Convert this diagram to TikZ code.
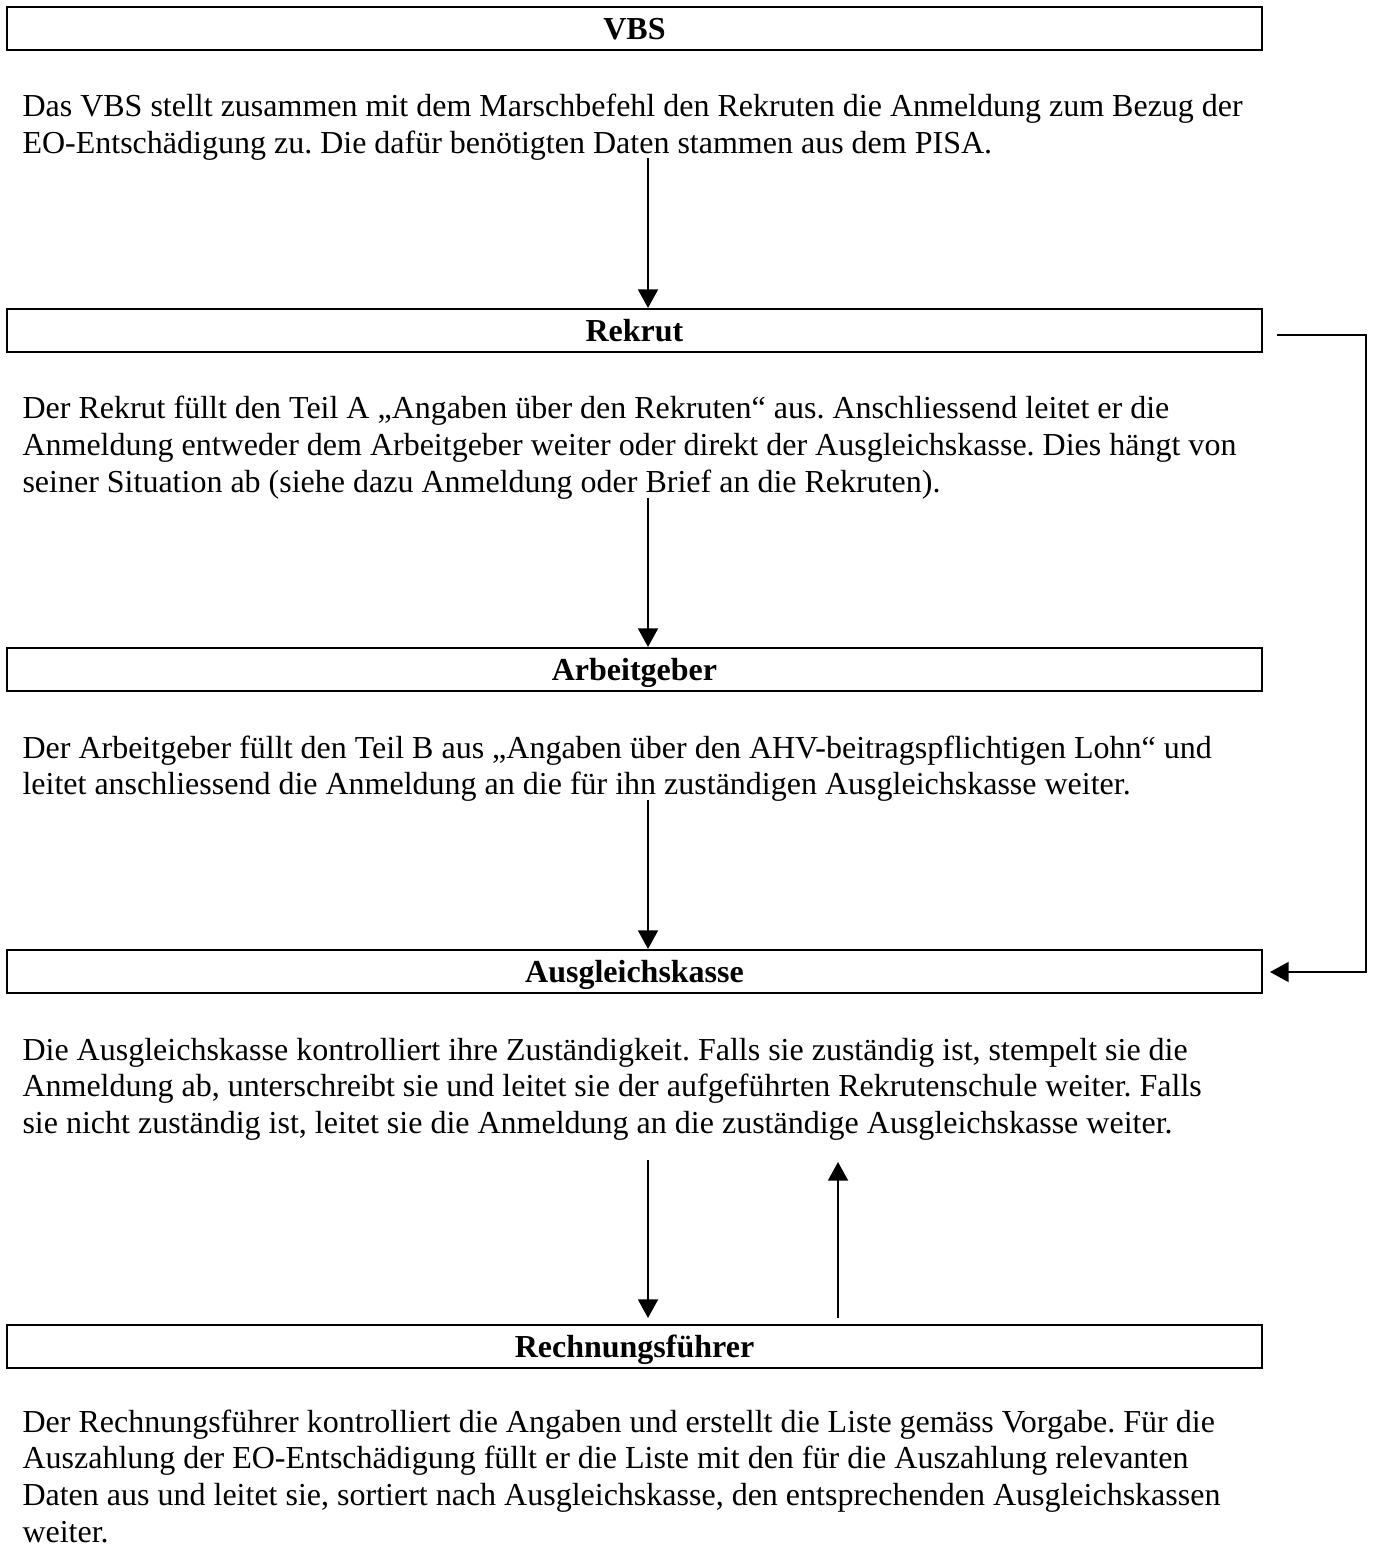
\documentclass[tikz,border=0pt]{standalone}
\usepackage{fontspec}
\setmainfont{Liberation Serif}
\usetikzlibrary{arrows.meta}
\begin{document}
\begin{tikzpicture}[x=0.375pt,y=-0.375pt,
  box/.style={draw, line width=0.8pt, minimum width=470.6pt, minimum height=16.1pt,
    inner sep=0pt, text height=7.9pt, text depth=0pt,
    font=\fontsize{12pt}{13.8pt}\selectfont\bfseries},
  para/.style={anchor=base west, inner sep=0pt,
    font=\frenchspacing\fontsize{12pt}{13.8pt}\selectfont},
  arr/.style={line width=0.75pt, -{Triangle[length=7pt,width=7.5pt]}}]
\useasboundingbox (0,0) rectangle (1377,1549);

% boxes
\node[box] (vbs)    at (634.5,28.5)   {VBS};
\node[box] (rek)    at (634.5,330.5)  {Rekrut};
\node[box] (arb)    at (634.5,669.5)  {Arbeitgeber};
\node[box] (akasse) at (634.5,971.5)  {Ausgleichskasse};
\node[box] (rf)     at (634.5,1346.5) {Rechnungsführer};

% paragraphs
\node[para] (p1) at (22,117) {\parbox[t]{500pt}{Das VBS stellt zusammen mit dem Marschbefehl den Rekruten die Anmeldung zum Bezug der\\
EO-Entschädigung zu. Die dafür benötigten Daten stammen aus dem PISA.}};
\node[para] (p2) at (22,419) {\parbox[t]{500pt}{Der Rekrut füllt den Teil A „Angaben über den Rekruten“ aus. Anschliessend leitet er die\\
Anmeldung entweder dem Arbeitgeber weiter oder direkt der Ausgleichskasse. Dies hängt von\\
seiner Situation ab (siehe dazu Anmeldung oder Brief an die Rekruten).}};
\node[para] (p3) at (22,758) {\parbox[t]{500pt}{Der Arbeitgeber füllt den Teil B aus „Angaben über den AHV-beitragspflichtigen Lohn“ und\\
leitet anschliessend die Anmeldung an die für ihn zuständigen Ausgleichskasse weiter.}};
\node[para] (p4) at (22,1060) {\parbox[t]{500pt}{Die Ausgleichskasse kontrolliert ihre Zuständigkeit. Falls sie zuständig ist, stempelt sie die\\
Anmeldung ab, unterschreibt sie und leitet sie der aufgeführten Rekrutenschule weiter. Falls\\
sie nicht zuständig ist, leitet sie die Anmeldung an die zuständige Ausgleichskasse weiter.}};
\node[para] (p5) at (22,1432) {\parbox[t]{500pt}{Der Rechnungsführer kontrolliert die Angaben und erstellt die Liste gemäss Vorgabe. Für die\\
Auszahlung der EO-Entschädigung füllt er die Liste mit den für die Auszahlung relevanten\\
Daten aus und leitet sie, sortiert nach Ausgleichskasse, den entsprechenden Ausgleichskassen\\
weiter.}};

% connector end points
\coordinate (a1) at (648,158);
\coordinate (a2) at (648,498);
\coordinate (a3) at (648,800);
\coordinate (a4s) at (648,1160);
\coordinate (a4e) at (648,1318);
\coordinate (a5s) at (838,1318);
\coordinate (a5e) at (838,1162);
\coordinate (r1) at (1277,335);
\coordinate (r2) at (1366,335);
\coordinate (r3) at (1366,972);
\coordinate (r4) at (1270,972);

\draw[arr] (a1) -- (a1 |- rek.north);
\draw[arr] (a2) -- (a2 |- arb.north);
\draw[arr] (a3) -- (a3 |- akasse.north);
\draw[arr] (a4s) -- (a4e);
\draw[arr] (a5s) -- (a5e);
\draw[arr] (r1) -- (r2) -- (r3) -- (r4);
\end{tikzpicture}
\end{document}
